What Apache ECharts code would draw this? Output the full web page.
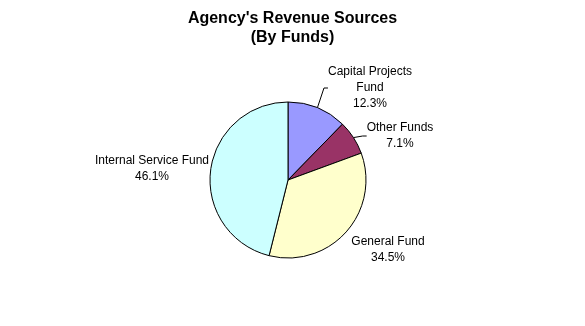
<!DOCTYPE html>
<html><head><meta charset="utf-8">
<script src="https://cdn.jsdelivr.net/npm/echarts@6/dist/echarts.min.js"></script>
<style>html,body{margin:0;padding:0;background:#fff}#c{width:585px;height:326px}</style>
</head><body><div id="c"></div>
<script>
const categories = ['Capital Projects Fund', 'Other Funds', 'General Fund', 'Internal Service Fund'];
const labelNames = ['Capital Projects\nFund', 'Other Funds', 'General Fund', 'Internal Service Fund'];
const values = [12.3, 7.1, 34.5, 46.1];
const colors = ['#9999FF', '#993366', '#FFFFCC', '#CCFFFF'];
const labelPos = [[370, 88], [400, 136], [388, 250], [152, 169]];
const showLine = [true, true, false, false];

const chart = echarts.init(document.getElementById('c'), null, {renderer: 'canvas'});
chart.setOption({
  animation: false,
  backgroundColor: '#fff',
  title: {
    text: "Agency's Revenue Sources\n(By Funds)",
    left: 'center', top: 4,
    textStyle: {fontFamily: 'Liberation Sans, Arial', fontSize: 16, fontWeight: 'bold', color: '#000', lineHeight: 19}
  },
  series: [{
    type: 'pie',
    center: [288, 180],
    radius: [0, 78],
    startAngle: 90,
    clockwise: true,
    data: categories.map((n, i) => ({
      name: n, value: values[i],
      itemStyle: {color: colors[i]},
      labelLine: {show: showLine[i]}
    })),
    itemStyle: {borderColor: '#000', borderWidth: 1},
    label: {
      show: true,
      position: 'outside',
      color: '#000',
      fontFamily: 'Liberation Sans, Arial',
      fontSize: 12,
      lineHeight: 16,
      align: 'center',
      formatter: p => labelNames[p.dataIndex] + '\n' + values[p.dataIndex].toFixed(1) + '%'
    },
    labelLine: {length: 8, length2: 4, lineStyle: {color: '#000', width: 1}},
    labelLayout: p => ({
      x: labelPos[p.dataIndex][0],
      y: labelPos[p.dataIndex][1],
      align: 'center',
      verticalAlign: 'middle'
    }),
    emphasis: {disabled: true}
  }]
});
</script></body></html>
